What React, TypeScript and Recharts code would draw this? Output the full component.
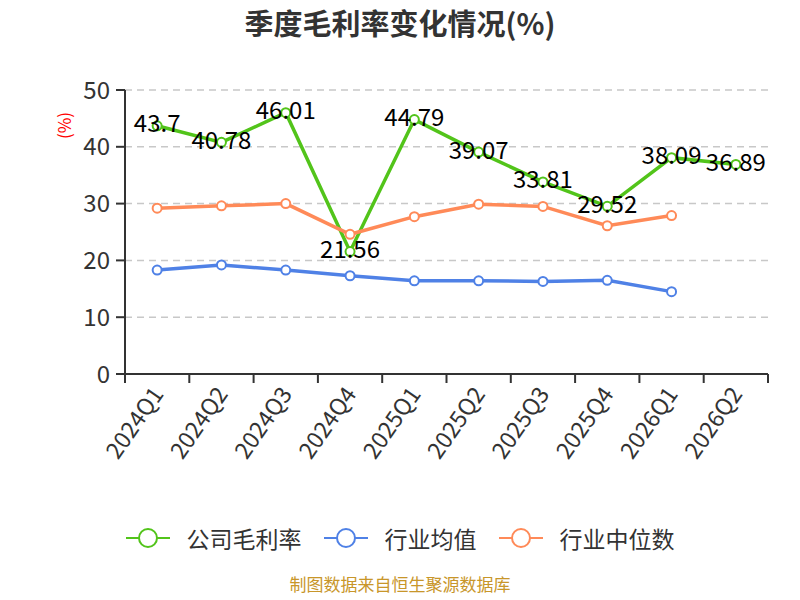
import React from 'react';
import { LineChart, Line, XAxis, YAxis, CartesianGrid, LabelList } from 'recharts';

const quarters = ['2024Q1', '2024Q2', '2024Q3', '2024Q4', '2025Q1', '2025Q2', '2025Q3', '2025Q4', '2026Q1', '2026Q2'];
const companyRate = [43.7, 40.78, 46.01, 21.56, 44.79, 39.07, 33.81, 29.52, 38.09, 36.89];
const industryMean = [18.3, 19.2, 18.3, 17.3, 16.4, 16.4, 16.3, 16.5, 14.5, null];
const industryMedian = [29.2, 29.6, 30.0, 24.6, 27.7, 29.9, 29.5, 26.1, 27.9, null];
const yTicks = [0, 10, 20, 30, 40, 50];

const SERIES = [
  { key: 'company', name: '公司毛利率', color: '#52c41a' },
  { key: 'mean', name: '行业均值', color: '#4f81e6' },
  { key: 'median', name: '行业中位数', color: '#ff8a58' },
];

const CHART_W = 800;
const CHART_H = 600;
const MARGIN = { top: 90, right: 32, bottom: 106, left: 0 };
const Y_AXIS_W = 125;
const BAND = (CHART_W - MARGIN.left - MARGIN.right - Y_AXIS_W) / quarters.length;

// x sits at band centres, ticks at band edges
const data = quarters.map((q, i) => ({
  x: i + 0.5,
  quarter: q,
  company: companyRate[i],
  mean: industryMean[i],
  median: industryMedian[i],
}));
const xTicks = quarters.map((_, i) => i).concat(quarters.length);

const QuarterTick = (props: any) => {
  const { x, y, payload } = props;
  const label = quarters[payload.value];
  if (!label) return null;
  return (
    <g transform={`translate(${x + BAND / 2},${y + 4})`}>
      <text textAnchor="end" transform="rotate(-55)" dy={9} fill="#333" fontSize={23}>
        {label}
      </text>
    </g>
  );
};

const LegendIcon = ({ color }: { color: string }) => (
  <svg width={44} height={22} style={{ marginRight: 17 }}>
    <line x1={0} y1={11} x2={44} y2={11} stroke={color} strokeWidth={2} />
    <circle cx={22} cy={11} r={9} fill="#fff" stroke={color} strokeWidth={2} />
  </svg>
);

const App = () => {
  return (
    <div
      style={{
        position: 'absolute',
        left: 0,
        top: 0,
        width: CHART_W,
        height: CHART_H,
        background: '#fff',
        overflow: 'hidden',
        fontFamily: '"Noto Sans CJK SC", "Noto Sans", sans-serif',
      }}
    >
      <div
        style={{
          position: 'absolute',
          top: 1,
          width: '100%',
          textAlign: 'center',
          fontSize: 29,
          fontWeight: 'bold',
          color: '#333',
        }}
      >
        季度毛利率变化情况(%)
      </div>
      <div
        style={{
          position: 'absolute',
          left: 50,
          top: 113,
          color: 'red',
          fontSize: 17,
          transform: 'rotate(-90deg)',
        }}
      >
        (%)
      </div>
      <LineChart width={CHART_W} height={CHART_H} data={data} margin={MARGIN}>
        <CartesianGrid vertical={false} stroke="#c8c8c8" strokeDasharray="7 5" strokeWidth={1.5} />
        <XAxis
          dataKey="x"
          type="number"
          domain={[0, quarters.length]}
          ticks={xTicks}
          interval={0}
          height={120}
          tick={<QuarterTick />}
          tickSize={9}
          stroke="#333"
          strokeWidth={2}
        />
        <YAxis
          domain={[0, 50]}
          ticks={yTicks}
          width={Y_AXIS_W}
          tickSize={9}
          tickMargin={6}
          stroke="#333"
          strokeWidth={2}
          tick={{ fill: '#333', fontSize: 24 }}
        />
        {SERIES.map((s) => (
          <Line
            key={s.key}
            dataKey={s.key}
            name={s.name}
            stroke={s.color}
            strokeWidth={3.5}
            dot={{ r: 4.5, fill: '#fff', stroke: s.color, strokeWidth: 2 }}
            isAnimationActive={false}
          >
            {s.key === 'company' && (
              <LabelList dataKey="company" position="center" dy={-2} fill="#000" fontSize={24} />
            )}
          </Line>
        ))}
      </LineChart>
      <div
        style={{
          position: 'absolute',
          top: 521,
          width: '100%',
          display: 'flex',
          justifyContent: 'center',
          alignItems: 'center',
          gap: 22,
          fontSize: 23,
          color: '#333',
        }}
      >
        {SERIES.map((s) => (
          <div key={s.key} style={{ display: 'flex', alignItems: 'center' }}>
            <LegendIcon color={s.color} />
            {s.name}
          </div>
        ))}
      </div>
      <div
        style={{
          position: 'absolute',
          top: 575,
          width: '100%',
          textAlign: 'center',
          fontSize: 17,
          lineHeight: '18px',
          color: '#c8962a',
        }}
      >
        制图数据来自恒生聚源数据库
      </div>
    </div>
  );
};

export default App;
